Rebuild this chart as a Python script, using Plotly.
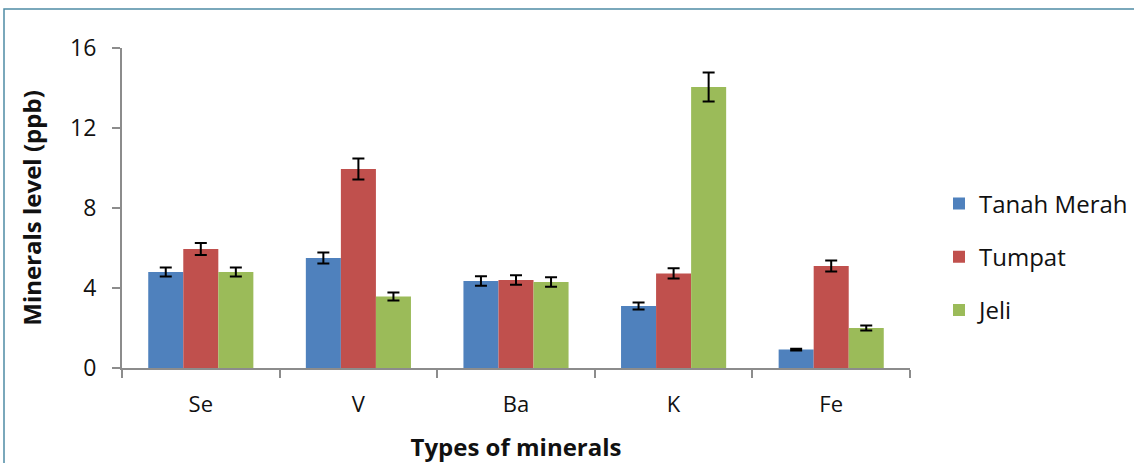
import plotly.graph_objects as go

categories = ["Se", "V", "Ba", "K", "Fe"]
tanah_merah = [4.8, 5.5, 4.35, 3.1, 0.92]
tanah_merah_err = [0.22, 0.28, 0.24, 0.17, 0.04]
tumpat = [5.95, 9.95, 4.4, 4.73, 5.1]
tumpat_err = [0.3, 0.52, 0.24, 0.26, 0.28]
jeli = [4.8, 3.57, 4.3, 14.05, 2.0]
jeli_err = [0.22, 0.2, 0.24, 0.73, 0.12]
yticks = [0, 4, 8, 12, 16]

FONT = "Open Sans"
W, H = 1134, 463
L, R, T, B = 122, 224, 48, 95
pw, ph = W - L - R, H - T - B

fig = go.Figure()
series = [("Tanah Merah", tanah_merah, tanah_merah_err, "#4F81BD"),
          ("Tumpat", tumpat, tumpat_err, "#C0504D"),
          ("Jeli", jeli, jeli_err, "#9BBB59")]
for i, (name, vals, errs, col) in enumerate(series):
    fig.add_trace(go.Bar(
        x=categories, y=vals, name=name, legendgroup=name,
        marker=dict(color=col, line=dict(width=0)),
        error_y=dict(type="data", array=errs, visible=True,
                     color="black", thickness=2, width=6),
    ))

fig.update_layout(
    width=W, height=H,
    margin=dict(l=L, r=R, t=T, b=B, autoexpand=False),
    paper_bgcolor="white", plot_bgcolor="white",
    font=dict(family=FONT, size=22, color="#111"),
    barmode="group", bargap=0.333, bargroupgap=0,
    showlegend=True,
    legend=dict(x=(939 - L) / pw, y=(368 - 257) / ph, xanchor="left", yanchor="middle",
                traceorder="grouped", tracegroupgap=19,
                font=dict(family=FONT, size=24, color="#111"),
                bgcolor="rgba(0,0,0,0)"),
    xaxis=dict(
        automargin=False,
        showline=True, linecolor="#8c8c8c", linewidth=2,
        ticks="outside", tickson="boundaries", ticklen=8, tickcolor="#8c8c8c", tickwidth=2,
        ticklabelstandoff=16,
        tickfont=dict(family=FONT, size=22, color="#111"),
        title=dict(text="<b>Types of minerals</b>", standoff=22,
                   font=dict(family=FONT, size=24, color="#111")),
    ),
    yaxis=dict(
        automargin=False,
        range=[0, 16], tickvals=yticks, showgrid=False, zeroline=False,
        showline=True, linecolor="#8c8c8c", linewidth=2,
        ticks="outside", ticklen=8, tickcolor="#8c8c8c", tickwidth=2,
        ticklabelstandoff=11,
        tickfont=dict(family=FONT, size=23, color="#111"),
        title=dict(text="<b>Minerals level (ppb)</b>", standoff=22,
                   font=dict(family=FONT, size=24, color="#111")),
    ),
    shapes=[dict(type="rect", xref="paper", yref="paper",
                 x0=(4 - L) / pw, x1=(W + 10 - L) / pw,
                 y0=(368 - (H + 10)) / ph, y1=(368 - 9) / ph,
                 line=dict(color="#4f8ca5", width=1.5), layer="below")],
)

fig.write_html("out.html", config={"displayModeBar": False},
               post_script="document.body.style.margin='0';")
